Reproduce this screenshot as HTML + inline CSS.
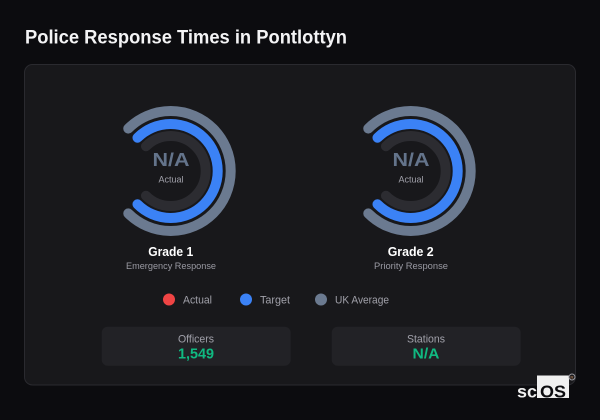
<!DOCTYPE html>
<html>
<head>
<meta charset="utf-8">
<style>
  html, body { margin: 0; padding: 0; background: #0c0c0f; }
  body { width: 600px; height: 420px; overflow: hidden; }
  svg { display: block; }
  text { font-family: "Liberation Sans", Arial, sans-serif; }
</style>
</head>
<body>
<svg width="600" height="420" viewBox="0 0 600 420" xmlns="http://www.w3.org/2000/svg">
  <rect x="0" y="0" width="600" height="420" fill="#0c0c0f"/>

  <!-- Title -->
  <text x="25" y="43.5" font-size="19" font-weight="bold" fill="#f4f4f5" textLength="322" lengthAdjust="spacingAndGlyphs">Police Response Times in Pontlottyn</text>

  <!-- Card -->
  <rect x="24.5" y="64.5" width="551" height="320.5" rx="8" ry="8" fill="#18181b" stroke="#2a2a2f" stroke-width="1"/>

  <!-- Gauge 1 -->
  <g transform="translate(170.7,171)" fill="none" stroke-linecap="round">
    <path d="M -42.43 -42.43 A 60 60 0 1 1 -42.43 42.43" stroke="#6b7a90" stroke-width="10"/>
    <path d="M -33.23 -33.23 A 47 47 0 1 1 -33.23 33.23" stroke="#3b82f6" stroke-width="10"/>
    <path d="M -24.75 -24.75 A 35 35 0 1 1 -24.75 24.75" stroke="#2c2c31" stroke-width="10"/>
  </g>
  <text x="171" y="166" font-size="18" font-weight="bold" fill="#64748b" text-anchor="middle" textLength="37" lengthAdjust="spacingAndGlyphs">N/A</text>
  <text x="171" y="182.5" font-size="9" fill="#a1a1aa" text-anchor="middle">Actual</text>
  <text x="170.7" y="256" font-size="13" font-weight="bold" fill="#ffffff" text-anchor="middle" textLength="45" lengthAdjust="spacingAndGlyphs">Grade 1</text>
  <text x="171" y="269" font-size="9.3" fill="#9a9aa3" text-anchor="middle" textLength="90" lengthAdjust="spacingAndGlyphs">Emergency Response</text>

  <!-- Gauge 2 -->
  <g transform="translate(410.7,171)" fill="none" stroke-linecap="round">
    <path d="M -42.43 -42.43 A 60 60 0 1 1 -42.43 42.43" stroke="#6b7a90" stroke-width="10"/>
    <path d="M -33.23 -33.23 A 47 47 0 1 1 -33.23 33.23" stroke="#3b82f6" stroke-width="10"/>
    <path d="M -24.75 -24.75 A 35 35 0 1 1 -24.75 24.75" stroke="#2c2c31" stroke-width="10"/>
  </g>
  <text x="411" y="166" font-size="18" font-weight="bold" fill="#64748b" text-anchor="middle" textLength="37" lengthAdjust="spacingAndGlyphs">N/A</text>
  <text x="411" y="182.5" font-size="9" fill="#a1a1aa" text-anchor="middle">Actual</text>
  <text x="410.7" y="256" font-size="13" font-weight="bold" fill="#ffffff" text-anchor="middle" textLength="46" lengthAdjust="spacingAndGlyphs">Grade 2</text>
  <text x="411" y="269" font-size="9.3" fill="#9a9aa3" text-anchor="middle" textLength="74" lengthAdjust="spacingAndGlyphs">Priority Response</text>

  <!-- Legend -->
  <circle cx="169" cy="299.5" r="6" fill="#ef4444"/>
  <text x="183" y="303.5" font-size="11" fill="#a1a1aa" textLength="29" lengthAdjust="spacingAndGlyphs">Actual</text>
  <circle cx="246" cy="299.5" r="6" fill="#3b82f6"/>
  <text x="260" y="303.5" font-size="11" fill="#a1a1aa" textLength="30" lengthAdjust="spacingAndGlyphs">Target</text>
  <circle cx="321" cy="299.5" r="6" fill="#6b7a90"/>
  <text x="335" y="303.5" font-size="11" fill="#a1a1aa" textLength="54" lengthAdjust="spacingAndGlyphs">UK Average</text>

  <!-- Stat boxes -->
  <rect x="101.7" y="326.7" width="189" height="39" rx="6" ry="6" fill="#222226"/>
  <text x="196" y="342.3" font-size="11" fill="#a1a1aa" text-anchor="middle" textLength="36" lengthAdjust="spacingAndGlyphs">Officers</text>
  <text x="196" y="358.5" font-size="15" font-weight="bold" fill="#10b981" text-anchor="middle" textLength="36" lengthAdjust="spacingAndGlyphs">1,549</text>

  <rect x="331.7" y="326.7" width="189" height="39" rx="6" ry="6" fill="#222226"/>
  <text x="426" y="342.3" font-size="11" fill="#a1a1aa" text-anchor="middle" textLength="38" lengthAdjust="spacingAndGlyphs">Stations</text>
  <text x="426" y="358.5" font-size="15" font-weight="bold" fill="#10b981" text-anchor="middle" textLength="27" lengthAdjust="spacingAndGlyphs">N/A</text>

  <!-- Logo -->
  <text x="517" y="397.5" font-size="17.5" font-weight="bold" fill="#f0f0f0" textLength="20" lengthAdjust="spacingAndGlyphs">sc</text>
  <rect x="537" y="375.5" width="32" height="22.5" fill="#f0f0f0"/>
  <text x="540" y="397.5" font-size="17.5" font-weight="bold" fill="#0c0c0f" textLength="26" lengthAdjust="spacingAndGlyphs">OS</text>
  <circle cx="572" cy="377" r="3" fill="none" stroke="#9a9aa0" stroke-width="1"/>
  <text x="572" y="379" font-size="4.5" fill="#c08a60" text-anchor="middle">R</text>
</svg>
</body>
</html>
